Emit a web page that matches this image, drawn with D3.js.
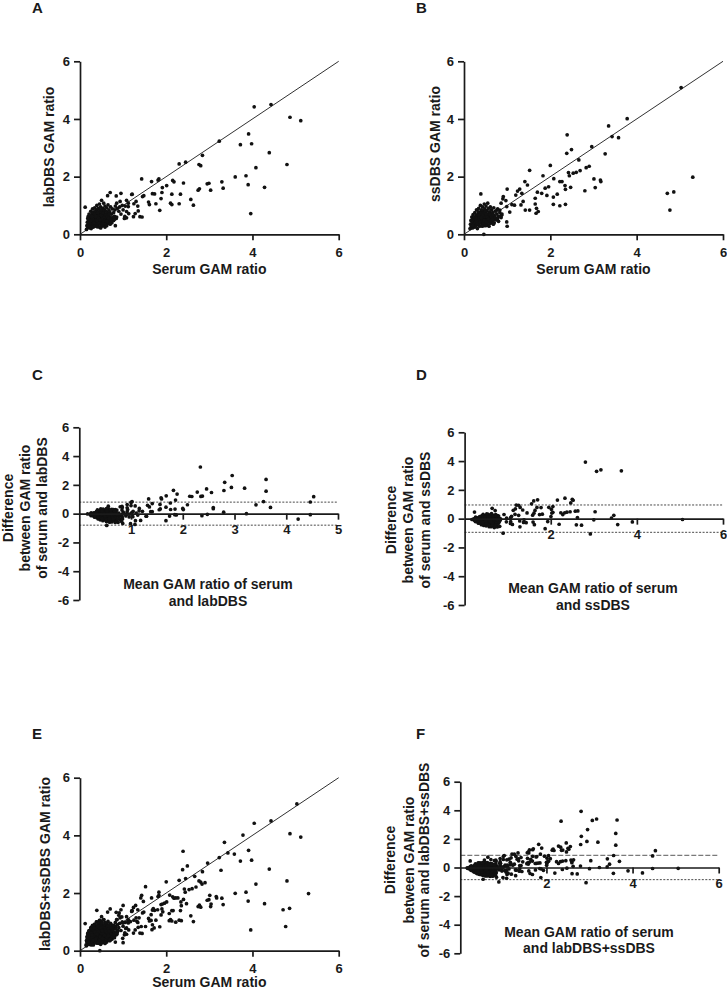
<!DOCTYPE html>
<html><head><meta charset="utf-8">
<script src="https://cdn.jsdelivr.net/npm/d3@7"></script>
<style>
body{margin:0;background:#fff}
svg{display:block}
text{font-family:"Liberation Sans",Arial,Helvetica,sans-serif;font-weight:bold;fill:#1a1a1a}
</style>
</head><body>
<svg id="chart" width="727" height="990"></svg>
<script>
// ---------- DATA ----------
// Panel A: [serum GAM ratio, labDBS GAM ratio]
const serumVsLabDBS = [
[4.04,4.42],[4.43,4.50],[4.87,4.06],[5.12,3.94],[3.91,3.48],[3.98,3.14],[3.72,3.11],[3.23,3.23],[4.39,2.83],[2.84,2.74],
[2.76,2.42],[2.80,2.38],[4.08,2.31],[4.80,2.42],[3.85,2.03],[3.60,1.99],[3.90,1.72],[4.28,1.63],[3.29,1.82],[3.32,1.60],
[2.99,1.77],[2.95,1.75],[3.03,1.53],[2.77,1.58],[2.74,1.53],[3.96,0.72],[2.45,2.50],[2.30,2.44],[2.40,1.78],[2.15,1.87],
[2.18,1.82],[2.33,1.39],[2.13,1.39],[2.10,1.08],[2.13,1.03],[2.30,1.06],[2.57,1.21],[2.63,1.01],[1.43,1.92],[1.66,1.83],
[1.81,1.88],[1.83,1.92],[1.91,1.62],[2.01,1.69],[1.68,1.41],[1.73,1.40],[1.90,1.45],[1.88,1.24],[1.59,1.12],[1.61,1.03],
[1.76,1.06],[1.85,0.83],[1.48,1.34],[1.45,1.31],[1.21,1.39],[1.20,1.38],[1.25,1.06],[1.30,1.14],[1.34,0.98],[1.35,0.81],
[1.39,0.61],[1.44,0.60],[1.28,0.72],[1.24,0.61],[1.08,1.18],[1.12,1.08],[1.13,0.72],[1.03,0.55],[1.08,0.57],[0.95,1.42],
[0.84,1.33],[0.70,1.45],[0.64,1.34],[0.87,0.90],[0.82,0.30],[0.12,0.94],[0.93,1.14],[0.85,1.08],[1.12,0.96],[1.08,0.79],
[1.04,0.62],[0.81,0.85],[0.92,0.95],[0.98,1.00],[1.05,0.98],[0.90,0.80],[1.00,0.85],[0.95,0.70],
[0.15,0.17],[0.16,0.30],[0.17,0.42],[0.18,0.55],[0.18,0.25],[0.19,0.62],[0.20,0.35],[0.20,0.48],[0.21,0.70],[0.22,0.22],
[0.22,0.40],[0.23,0.58],[0.24,0.30],[0.24,0.52],[0.25,0.45],[0.25,0.80],[0.26,0.20],[0.26,0.65],[0.27,0.38],[0.27,0.55],
[0.28,0.28],[0.28,0.72],[0.29,0.48],[0.29,0.88],[0.30,0.35],[0.30,0.60],[0.31,0.42],[0.31,0.25],[0.32,0.68],[0.32,0.52],
[0.33,0.78],[0.33,0.33],[0.34,0.45],[0.34,0.92],[0.35,0.58],[0.35,0.28],[0.36,0.65],[0.36,0.40],[0.37,0.85],[0.37,0.50],
[0.38,0.72],[0.38,0.35],[0.39,0.60],[0.39,1.00],[0.40,0.45],[0.40,0.80],[0.41,0.55],[0.41,0.30],[0.42,0.68],[0.42,0.90],
[0.43,0.48],[0.43,0.62],[0.44,0.38],[0.44,0.75],[0.45,0.58],[0.45,1.05],[0.46,0.42],[0.46,0.85],[0.47,0.65],[0.47,0.52],
[0.48,0.95],[0.48,0.33],[0.49,0.72],[0.49,0.60],[0.50,0.45],[0.50,1.18],[0.51,0.80],[0.51,0.55],[0.52,0.68],[0.52,0.38],
[0.53,0.90],[0.53,0.62],[0.54,0.50],[0.55,0.75],[0.55,1.08],[0.56,0.42],[0.56,0.65],[0.57,0.85],[0.58,0.55],[0.58,0.98],
[0.59,0.70],[0.60,0.48],[0.60,0.62],[0.61,0.80],[0.62,0.40],[0.62,0.92],[0.63,0.58],[0.64,0.72],[0.65,0.50],[0.65,1.02],
[0.66,0.65],[0.67,0.85],[0.68,0.45],[0.69,0.78],[0.70,0.60],[0.71,0.95],[0.72,0.55],[0.73,0.70],[0.75,0.88],[0.76,0.50],
[0.78,0.75],[0.80,0.62],[0.82,0.98],[0.84,0.55],[0.30,0.75],[0.35,0.50],[0.40,0.62],[0.45,0.70],[0.38,0.55],[0.42,0.42],
[0.47,0.78],[0.33,0.62],[0.52,0.58],[0.57,0.68],[0.28,0.40],[0.44,0.52],[0.50,0.65],[0.36,0.75],[0.54,0.82],[0.61,0.58],
[0.21,0.30],[0.23,0.38],[0.26,0.48],[0.29,0.56],[0.31,0.64],[0.34,0.70],[0.37,0.62],[0.39,0.48],[0.43,0.56],[0.46,0.50],
[0.49,0.66],[0.53,0.74],[0.57,0.60],[0.60,0.68],[0.64,0.62],[0.68,0.70],[0.27,0.62],[0.32,0.40],[0.41,0.75],[0.48,0.84],
[0.55,0.30],[0.60,0.35],[0.65,0.38],[0.70,0.42],[0.74,0.40],[0.78,0.48],[0.58,0.25],[0.50,0.28],[0.45,0.25],[0.62,0.30],
[0.66,0.55],[0.72,0.48],[0.80,0.52],[0.85,0.60],[0.53,0.35],[0.48,0.22],[0.70,0.35],[0.77,0.60],[0.40,0.26],[0.63,0.45]
];
// Panel B: [serum GAM ratio, ssDBS GAM ratio]
const serumVsSsDBS = [
[5.03,5.09],[3.78,4.01],[3.35,3.76],[3.43,3.39],[3.58,3.35],[2.39,3.45],[2.49,2.94],[2.38,2.81],[2.96,3.04],[3.27,2.79],
[2.66,2.58],[5.30,1.98],[4.71,1.42],[4.86,1.47],[4.77,0.84],[2.00,2.39],[1.52,2.22],[1.83,2.03],[2.08,1.93],[2.22,1.83],
[2.27,1.83],[2.42,2.14],[2.44,2.03],[2.53,2.12],[2.60,2.15],[2.69,2.21],[2.83,2.31],[2.90,2.36],[2.80,1.51],[3.01,1.92],
[3.04,1.62],[3.16,1.88],[3.17,1.83],[2.34,1.69],[2.35,1.56],[2.47,1.63],[2.35,1.04],[2.22,0.99],[2.07,1.04],[2.07,1.29],
[1.92,1.35],[1.88,1.60],[1.96,1.65],[2.16,1.39],[1.70,1.46],[1.80,1.42],[1.65,1.25],[1.65,1.05],[1.68,0.90],[1.67,0.73],
[1.72,0.79],[1.41,1.83],[1.47,1.71],[1.29,1.57],[1.24,1.50],[1.20,1.36],[1.34,1.42],[1.37,1.14],[1.32,1.02],[1.42,0.84],
[1.52,0.84],[1.11,1.03],[1.17,1.01],[1.00,1.57],[0.90,1.23],[0.97,1.17],[1.06,0.77],[1.00,0.28],[0.86,1.08],[0.83,0.84],
[0.39,1.40],[0.46,0.00],[0.71,0.59],[0.65,0.40],[0.91,1.31],[0.99,0.96],[0.76,0.84],[0.87,0.66],[0.68,0.55],[0.99,0.43],
[0.14,0.20],[0.15,0.35],[0.16,0.48],[0.17,0.28],[0.18,0.60],[0.19,0.40],[0.20,0.22],[0.20,0.52],[0.21,0.68],[0.22,0.32],
[0.23,0.45],[0.24,0.58],[0.25,0.25],[0.25,0.75],[0.26,0.38],[0.27,0.50],[0.28,0.65],[0.28,0.30],[0.29,0.85],[0.30,0.42],
[0.30,0.55],[0.31,0.20],[0.32,0.70],[0.32,0.48],[0.33,0.35],[0.34,0.62],[0.34,0.90],[0.35,0.45],[0.36,0.75],[0.36,0.28],
[0.37,0.55],[0.38,0.65],[0.38,1.00],[0.39,0.40],[0.40,0.82],[0.40,0.52],[0.41,0.60],[0.42,0.35],[0.42,0.72],[0.43,0.95],
[0.44,0.48],[0.44,0.62],[0.45,0.80],[0.45,0.30],[0.46,0.55],[0.47,1.05],[0.47,0.70],[0.48,0.42],[0.48,0.88],[0.49,0.60],
[0.50,0.50],[0.50,0.75],[0.51,0.98],[0.52,0.38],[0.52,0.65],[0.53,0.82],[0.54,0.55],[0.55,0.70],[0.55,1.08],[0.56,0.45],
[0.57,0.90],[0.58,0.62],[0.59,0.78],[0.60,0.52],[0.61,0.95],[0.62,0.68],[0.63,0.40],[0.64,0.85],[0.65,0.58],[0.66,0.75],
[0.68,0.50],[0.69,0.92],[0.70,0.65],[0.72,0.80],[0.74,0.55],[0.76,0.70],[0.78,0.88],[0.80,0.62],[0.83,0.75],[0.86,0.58],
[0.30,0.62],[0.35,0.38],[0.40,0.68],[0.45,0.42],[0.38,0.48],[0.42,0.55],[0.48,0.68],[0.33,0.52],[0.52,0.52],[0.58,0.72],
[0.27,0.42],[0.44,0.75],[0.50,0.62],[0.36,0.60],[0.54,0.68],[0.62,0.55],[0.25,0.50],[0.41,0.85],[0.46,0.62],[0.56,0.60],
[0.20,0.30],[0.23,0.52],[0.26,0.60],[0.29,0.48],[0.31,0.36],[0.33,0.78],[0.37,0.42],[0.39,0.72],[0.43,0.66],[0.47,0.48],
[0.49,0.80],[0.53,0.60],[0.57,0.52],[0.60,0.68],[0.64,0.62],[0.67,0.68],[0.28,0.55],[0.35,0.66],[0.40,0.58],[0.51,0.70],
[0.55,0.32],[0.60,0.38],[0.65,0.45],[0.70,0.40],[0.75,0.50],[0.80,0.45],[0.58,0.28],[0.50,0.30],[0.62,0.48],[0.68,0.35],
[0.72,0.58],[0.78,0.55],[0.84,0.62],[0.52,0.42],[0.45,0.35],[0.88,0.70],[0.42,0.28],[0.66,0.52]
];
// Ticks
const scatterTicks = [0, 2, 4, 6];
const diffTicks = [-6, -4, -2, 0, 2, 4, 6];
const meanTicksC = [1, 2, 3, 4, 5];
const meanTicksDF = [2, 4, 6];
// Limits of agreement (dashed lines)
const limitsC = [0.8, -0.8];
const limitsD = [0.95, -0.95];
const limitsF = [0.85, -0.85];

// ---------- DRAWING ----------
const svg = d3.select('#chart');
const INK = '#1a1a1a';
const fmt = d => String(d);
// Bland–Altman transform: [mean, serum − DBS]
const blandAltman = pairs => pairs.map(([s, d]) => [(s + d) / 2, s - d]);

function styleAxis(g) {
  g.select('.domain').attr('stroke', INK).attr('stroke-width', 1.7);
  g.selectAll('.tick line').attr('stroke', INK).attr('stroke-width', 1.7);
  g.selectAll('.tick text').attr('font-size', 13).attr('fill', INK)
    .attr('font-family', '"Liberation Sans",Arial,sans-serif').attr('font-weight', 'bold');
}

function dots(g, data, x, y) {
  g.append('g').selectAll('circle').data(data).join('circle')
    .attr('cx', d => x(d[0])).attr('cy', d => y(d[1])).attr('r', 1.85).attr('fill', '#111');
}

function letter(t, px, py) {
  svg.append('text').attr('x', px).attr('y', py).attr('font-size', 15).text(t);
}

function scatterPanel(o) {
  const x = d3.scaleLinear().domain([0, 6]).range(o.xr);
  const y = d3.scaleLinear().domain([0, 6]).range(o.yr);
  const g = svg.append('g');
  g.append('line').attr('x1', x(0)).attr('y1', y(0)).attr('x2', x(6)).attr('y2', y(6))
    .attr('stroke', INK).attr('stroke-width', 0.9);
  dots(g, o.data, x, y);
  g.append('g').attr('transform', `translate(0,${o.yr[0]})`)
    .call(d3.axisBottom(x).tickValues(scatterTicks).tickFormat(fmt).tickSize(6).tickSizeOuter(0).tickPadding(7))
    .call(styleAxis);
  g.append('g').attr('transform', `translate(${o.xr[0]},0)`)
    .call(d3.axisLeft(y).tickValues(scatterTicks).tickFormat(fmt).tickSize(6).tickSizeOuter(0).tickPadding(4))
    .call(styleAxis);
  g.append('text').attr('x', (o.xr[0] + o.xr[1]) / 2).attr('y', o.xTitleY)
    .attr('text-anchor', 'middle').attr('font-size', 14).text('Serum GAM ratio');
  g.append('text').attr('transform', `translate(${o.yTitleX},${o.yTitleC}) rotate(-90)`)
    .attr('text-anchor', 'middle').attr('font-size', 14).text(o.yTitle);
}

function baPanel(o) {
  const x = d3.scaleLinear().domain([0, o.xmax]).range(o.xr);
  const y = d3.scaleLinear().domain([-6, 6]).range(o.yr);
  const g = svg.append('g');
  g.append('line').attr('x1', o.xr[0]).attr('x2', o.xr[1]).attr('y1', y(o.limits[0])).attr('y2', y(o.limits[0]))
    .attr('stroke', o.upperGrey ? '#7a7a7a' : INK).attr('stroke-width', o.upperGrey ? 1.1 : 0.8)
    .attr('stroke-dasharray', o.upperGrey ? '5,2' : '2,1.5');
  g.append('line').attr('x1', o.xr[0]).attr('x2', o.xr[1]).attr('y1', y(o.limits[1])).attr('y2', y(o.limits[1]))
    .attr('stroke', INK).attr('stroke-width', 0.8).attr('stroke-dasharray', '2,1.5');
  dots(g, o.data, x, y);
  g.append('g').attr('transform', `translate(0,${y(0)})`)
    .call(d3.axisBottom(x).tickValues(o.xticks).tickFormat(fmt).tickSize(6).tickSizeOuter(0).tickPadding(5))
    .call(styleAxis);
  g.append('g').attr('transform', `translate(${o.xr[0]},0)`)
    .call(d3.axisLeft(y).tickValues(diffTicks).tickFormat(fmt).tickSize(6).tickSizeOuter(0).tickPadding(4))
    .call(styleAxis);
  o.xTitle.forEach((t, i) => {
    g.append('text').attr('x', o.xTitleX).attr('y', o.xTitleY[i])
      .attr('text-anchor', 'middle').attr('font-size', 14).text(t);
  });
  o.yTitle.forEach((t, i) => {
    g.append('text').attr('transform', `translate(${o.yTitleX[i]},${o.yTitleC}) rotate(-90)`)
      .attr('text-anchor', 'middle').attr('font-size', 14).text(t);
  });
}

const baLab = blandAltman(serumVsLabDBS);
const baSs = blandAltman(serumVsSsDBS);

// A
letter('A', 32, 13);
scatterPanel({xr: [80, 338.7], yr: [234.3, 61.3], data: serumVsLabDBS,
  xTitleY: 274, yTitleX: 54, yTitleC: 147, yTitle: 'labDBS GAM ratio'});
// B
letter('B', 416, 13);
scatterPanel({xr: [464, 723], yr: [234.3, 61.3], data: serumVsSsDBS,
  xTitleY: 274, yTitleX: 439.5, yTitleC: 144, yTitle: 'ssDBS GAM ratio'});
// C
letter('C', 32, 380);
baPanel({xmax: 5, xr: [79.3, 338], yr: [600, 427.3], data: baLab, xticks: meanTicksC, limits: limitsC,
  xTitle: ['Mean GAM ratio of serum', 'and labDBS'], xTitleX: 208, xTitleY: [588.7, 605.5],
  yTitle: ['Difference', 'between GAM ratio', 'of serum and labDBS'], yTitleX: [12.7, 29.5, 46.5], yTitleC: 508});
// D
letter('D', 416, 380);
baPanel({xmax: 6, xr: [464.6, 723], yr: [605, 432.3], data: baSs, xticks: meanTicksDF, limits: limitsD,
  xTitle: ['Mean GAM ratio of serum', 'and ssDBS'], xTitleX: 593, xTitleY: [592.7, 609.5],
  yTitle: ['Difference', 'between GAM ratio', 'of serum and ssDBS'], yTitleX: [396, 413, 430], yTitleC: 520});
// E
letter('E', 32, 739);
scatterPanel({xr: [80, 338.7], yr: [950.7, 777.7], data: serumVsLabDBS.concat(serumVsSsDBS),
  xTitleY: 987, yTitleX: 50, yTitleC: 864, yTitle: 'labDBS+ssDBS GAM ratio'});
// F
letter('F', 416, 739);
baPanel({xmax: 6, xr: [460.3, 718.7], yr: [953.3, 781.7], data: baLab.concat(baSs), xticks: meanTicksDF, limits: limitsF,
  upperGrey: true,
  xTitle: ['Mean GAM ratio of serum', 'and labDBS+ssDBS'], xTitleX: 589, xTitleY: [937, 953],
  yTitle: ['Difference', 'between GAM ratio', 'of serum and labDBS+ssDBS'], yTitleX: [395, 413.5, 428.5], yTitleC: 860});
</script>
</body></html>
